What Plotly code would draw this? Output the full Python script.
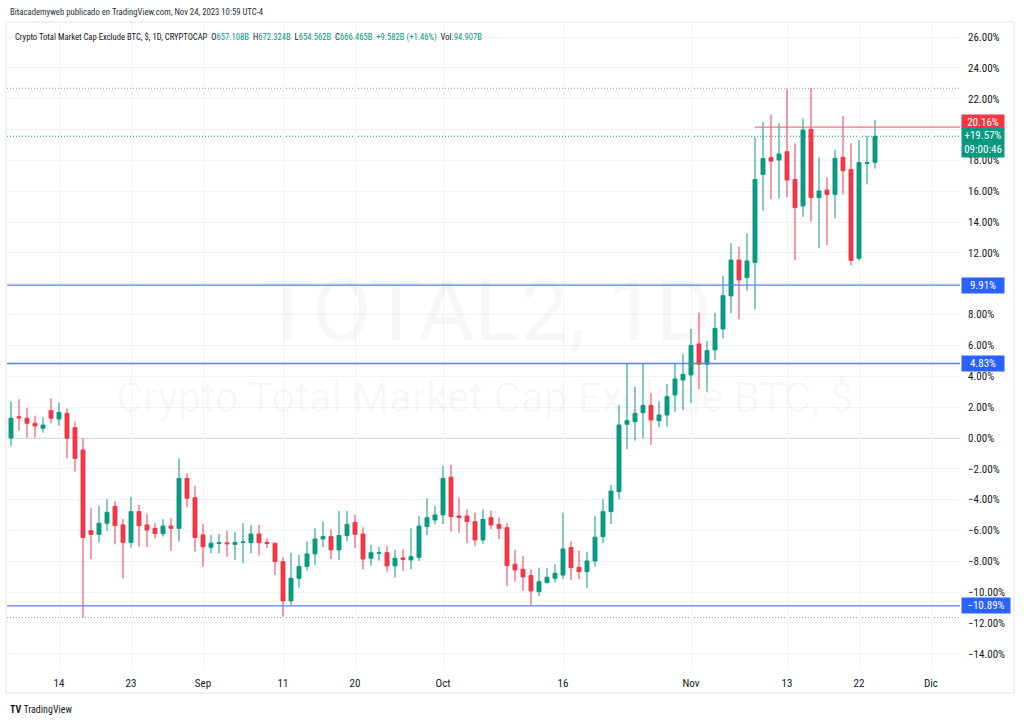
import pandas as pd
import plotly.graph_objects as go

# ---------------- data (percent scale, daily candles) ----------------
start_date = "2023-08-08"
end_date = "2023-11-24"
dates = pd.date_range(start_date, end_date, freq="D")

open_ = [0.00, 1.38, 1.28, 0.95, 0.63, 1.77, 1.23, 1.60, 0.67, -0.78,
         -6.01, -6.25, -5.53, -4.43, -5.64, -6.77, -4.78, -5.64, -5.86, -6.20,
         -5.71, -5.86, -2.62, -3.87, -6.29, -7.09, -6.85, -6.80, -6.90, -6.77,
         -6.79, -6.23, -6.77, -6.83, -8.02, -10.57, -9.10, -8.34, -7.52, -6.55,
         -6.40, -7.26, -6.33, -5.47, -6.23, -7.80, -7.48, -7.44, -8.30, -7.78,
         -7.91, -7.74, -5.75, -5.32, -4.99, -2.55, -5.06, -5.06, -5.43, -6.61,
         -5.17, -5.60, -5.82, -8.19, -8.52, -8.93, -9.97, -9.38, -9.10, -8.89,
         -7.11, -8.39, -8.67, -7.98, -6.40, -4.78, -3.48, 0.89, 1.06, 1.64,
         2.10, 1.12, 1.49, 2.79, 3.76, 4.09, 6.10, 4.78, 5.71, 7.07,
         9.21, 11.54, 10.40, 11.39, 17.10, 18.18, 18.03, 18.57, 16.77, 15.05,
         20.02, 15.59, 16.08, 15.80, 18.20, 17.42, 11.65, 17.81, 17.88]
high = [2.36, 2.51, 1.97, 1.45, 1.34, 2.57, 2.31, 1.92, 1.06, -0.02,
        -4.56, -4.41, -3.98, -4.09, -5.25, -3.83, -4.35, -4.93, -5.53, -5.27,
        -5.21, -1.32, -2.29, -3.11, -5.60, -6.29, -6.23, -6.01, -6.12, -5.53,
        -5.64, -5.64, -6.51, -6.79, -7.74, -7.44, -7.59, -6.72, -5.86, -5.43,
        -5.92, -4.73, -4.73, -4.99, -5.79, -6.94, -7.05, -7.00, -7.26, -7.22,
        -5.86, -5.06, -3.91, -4.41, -1.82, -1.75, -3.87, -4.63, -4.84, -4.63,
        -4.71, -5.17, -5.53, -7.26, -7.65, -8.52, -8.41, -8.45, -8.19, -4.84,
        -6.72, -7.31, -7.37, -5.04, -3.96, -3.05, 2.14, 4.80, 3.33, 4.80,
        2.90, 2.36, 3.50, 4.80, 5.45, 7.07, 8.13, 6.29, 8.10, 10.53,
        12.62, 12.41, 13.27, 19.50, 20.51, 20.99, 20.41, 22.68, 19.11, 20.73,
        22.68, 18.20, 16.90, 18.68, 20.88, 19.11, 19.33, 19.58, 20.62]
low = [-0.52, 0.48, 0.02, 0.02, 0.35, 0.95, 0.80, -1.32, -2.18, -11.65,
       -7.87, -6.77, -6.03, -6.90, -9.10, -7.11, -7.05, -7.09, -6.51, -6.40,
       -7.31, -6.72, -4.50, -7.37, -8.34, -7.48, -7.48, -7.70, -7.91, -8.13,
       -7.48, -7.63, -7.15, -8.88, -11.59, -10.87, -9.71, -8.60, -8.24, -7.09,
       -7.85, -7.91, -6.72, -7.16, -8.52, -8.30, -7.95, -8.67, -9.06, -8.63,
       -8.52, -7.98, -6.29, -5.60, -5.58, -6.07, -6.14, -6.83, -7.00, -6.87,
       -5.92, -6.57, -9.60, -9.32, -9.90, -10.83, -10.25, -9.43, -9.38, -9.17,
       -9.21, -9.17, -9.75, -8.34, -6.83, -5.58, -3.98, -0.73, -0.17, -0.02,
       -0.45, 0.69, 0.73, 1.71, 1.82, 2.25, 3.16, 3.00, 5.06, 6.46,
       8.08, 7.70, 9.55, 8.34, 14.74, 15.48, 15.54, 15.61, 11.52, 14.35,
       14.03, 12.30, 12.52, 14.25, 15.80, 11.20, 11.52, 16.45, 17.47]
close = [1.28, 1.30, 0.95, 0.78, 0.84, 1.28, 1.66, -0.02, -1.32, -6.46,
         -6.25, -5.53, -4.82, -5.69, -6.77, -4.78, -5.69, -5.97, -6.20, -5.71,
         -5.86, -2.62, -3.91, -6.46, -7.05, -6.83, -6.80, -6.86, -6.77, -6.75,
         -6.23, -6.79, -6.85, -8.02, -10.57, -9.10, -8.34, -7.52, -6.55, -6.40,
         -7.26, -6.33, -5.60, -6.25, -7.85, -7.44, -7.44, -8.30, -7.80, -7.87,
         -7.70, -5.71, -5.17, -4.99, -2.62, -5.10, -5.15, -5.43, -6.61, -5.28,
         -5.64, -5.86, -8.28, -8.56, -9.01, -9.92, -9.32, -9.04, -8.78, -7.20,
         -8.41, -8.67, -7.98, -6.44, -4.78, -3.44, 0.84, 1.12, 1.60, 2.10,
         1.17, 1.49, 2.68, 3.83, 4.13, 5.99, 4.78, 5.66, 7.11, 9.23,
         11.54, 10.25, 11.48, 16.77, 18.12, 17.96, 18.42, 16.73, 14.94, 19.97,
         15.59, 16.02, 15.80, 18.14, 17.34, 11.52, 17.86, 17.86, 19.57]

# horizontal levels drawn on the chart
blue_levels = [9.91, 4.83, -10.89]
red_level = 20.16
red_level_start = "2023-11-09"
base_level = 0.0

# axis ticks
x_tickvals = ["2023-08-14", "2023-08-23", "2023-09-01", "2023-09-11", "2023-09-20",
              "2023-10-01", "2023-10-16", "2023-11-01", "2023-11-13", "2023-11-22",
              "2023-12-01"]
x_ticktext = ["14", "23", "Sep", "11", "20", "Oct", "16", "Nov", "13", "22", "Dic"]
y_tickvals = list(range(-14, 27, 2))
y_hidden = [20, 10]  # covered by price labels in the reference
y_ticktext = ["" if v in y_hidden else ("−" if v < 0 else "") + f"{abs(v):.2f}%" for v in y_tickvals]

# texts
header_text = "Bitacademyweb publicado en TradingView.com, Nov 24, 2023 10:59 UTC-4"
symbol_text = "Crypto Total Market Cap Exclude BTC, $, 1D, CRYPTOCAP"
ohlc_labels = ["O", "H", "L", "C"]
ohlc_values = ["657.108B", "672.324B", "654.562B", "666.465B"]
change_text = "+9.582B (+1.46%)"
vol_label = "Vol."
vol_value = "94.907B"
countdown = "09:00:46"

# ---------------- styling ----------------
GREEN = "#089981"
RED = "#f23645"
BLUE = "#2962ff"
GRID = "#f0f3fa"
TXT = "#131722"
FONT = "Liberation Sans Narrow, Roboto Condensed, Roboto, Arial, sans-serif"

W, H = 1024, 724
L_PX, R_PX, T_PX, B_PX = 7, 960, 22, 668


def px_x(px):
    return (px - L_PX) / (R_PX - L_PX)


def px_y(py):
    return (B_PX - py) / (B_PX - T_PX)


fig = go.Figure()
fig.add_trace(go.Candlestick(
    x=dates, open=open_, high=high, low=low, close=close,
    increasing=dict(line=dict(color=GREEN, width=1), fillcolor=GREEN),
    decreasing=dict(line=dict(color=RED, width=1), fillcolor=RED),
    whiskerwidth=0, showlegend=False, hoverinfo="skip",
))

DOT = "1px,2px"
shapes = []
# base 0% line
shapes.append(dict(type="line", xref="paper", yref="y", x0=0, x1=1,
                   y0=base_level, y1=base_level, line=dict(color="#b2b5be", width=1), layer="below"))
# high / low of range
hi, lo = max(high), min(low)
for lvl in (hi, lo):
    shapes.append(dict(type="line", xref="paper", yref="y", x0=0, x1=1, y0=lvl, y1=lvl,
                       line=dict(color="#9598a1", width=1, dash=DOT), layer="below"))
# last price line
last = close[-1]
shapes.append(dict(type="line", xref="paper", yref="y", x0=0, x1=1, y0=last, y1=last,
                   line=dict(color=GREEN, width=1, dash=DOT), layer="below"))
# blue horizontal levels
for lvl in blue_levels:
    shapes.append(dict(type="line", xref="paper", yref="y", x0=0, x1=1, y0=lvl, y1=lvl,
                       line=dict(color="#5b7ef7", width=1.3)))
# red horizontal ray
shapes.append(dict(type="line", xref="x", yref="y", x0=red_level_start, x1="2023-12-31",
                   y0=red_level, y1=red_level, line=dict(color="#f4707c", width=1.3)))
# outer frame
shapes.append(dict(type="rect", xref="paper", yref="paper",
                   x0=px_x(6), x1=px_x(1014), y0=px_y(693), y1=px_y(22),
                   line=dict(color="#e0e3eb", width=1), fillcolor="rgba(0,0,0,0)"))

ann = []
# watermarks
ann.append(dict(text="TOTAL2, 1D", xref="paper", yref="paper", x=px_x(487), y=px_y(310),
                showarrow=False, font=dict(family="Roboto, sans-serif", size=86, color="rgba(19,23,34,0.035)")))
ann.append(dict(text="Crypto Total Market Cap Exclude BTC, $", xref="paper", yref="paper",
                x=px_x(484), y=px_y(397), showarrow=False,
                font=dict(family="Roboto, sans-serif", size=42, color="rgba(19,23,34,0.035)")))
# header
ann.append(dict(text=header_text, xref="paper", yref="paper", x=px_x(8), y=px_y(12),
                xanchor="left", yanchor="middle", showarrow=False,
                font=dict(family=FONT, size=8.7, color="#2a2e39")))
# legend line
parts = [f'<span style="color:{TXT}">{symbol_text}</span>']
for lab, val in zip(ohlc_labels, ohlc_values):
    parts.append(f'<span style="color:{TXT}">{lab}</span><span style="color:{GREEN}">{val}</span>')
parts.append(f'<span style="color:{GREEN}">{change_text}</span>')
parts.append(f'<span style="color:{TXT}">{vol_label}</span><span style="color:{GREEN}">{vol_value}</span>')
ann.append(dict(text="  ".join(parts), xref="paper", yref="paper", x=px_x(13), y=px_y(37),
                xanchor="left", yanchor="middle", showarrow=False,
                font=dict(family=FONT, size=8.6, color=TXT)))
# bottom logo
ann.append(dict(text="<b>TV</b> TradingView", xref="paper", yref="paper", x=px_x(8), y=px_y(709),
                xanchor="left", yanchor="middle", showarrow=False,
                font=dict(family=FONT, size=10, color="#131722")))


# price labels on axis
def axis_label(val, text, color, width, yshift=0):
    return dict(text=text, xref="paper", yref="y", x=1, y=val, xanchor="left", yanchor="middle",
                xshift=1, yshift=yshift, showarrow=False, bgcolor=color, borderpad=1,
                width=width, align="center",
                font=dict(family=FONT, size=11, color="white"))


ann.append(axis_label(red_level, f"{red_level:.2f}%", RED, 40, yshift=5))
ann.append(axis_label(last, f"+{last:.2f}%<br>{countdown}", GREEN, 40, yshift=-6))
for lvl in blue_levels:
    txt = ("−" if lvl < 0 else "") + f"{abs(lvl):.2f}%"
    ann.append(axis_label(lvl, txt, BLUE, 46 if lvl < 0 else 40))

fig.update_layout(
    width=W, height=H,
    margin=dict(l=L_PX, r=W - R_PX, t=T_PX, b=H - B_PX, pad=0),
    paper_bgcolor="white", plot_bgcolor="white",
    font=dict(family=FONT, size=11, color=TXT),
    shapes=shapes, annotations=ann,
    showlegend=False,
    xaxis=dict(type="date", range=["2023-08-07 12:00", "2023-12-04 15:00"],
               tickvals=x_tickvals, ticktext=x_ticktext, showgrid=True, gridcolor=GRID,
               zeroline=False, showline=False, ticks="", rangeslider=dict(visible=False),
               tickfont=dict(family=FONT, size=11, color=TXT), ticklabelstandoff=7),
    yaxis=dict(side="right", range=[-14.92, 26.98], tickvals=y_tickvals, ticktext=y_ticktext,
               showgrid=True, gridcolor=GRID, zeroline=False, showline=False, ticks="",
               tickfont=dict(family=FONT, size=11, color=TXT), ticklabelstandoff=7),
)

fig.write_html("out.html", config={"displayModeBar": False},
               post_script="document.body.style.margin='0';document.body.style.overflow='hidden';")
